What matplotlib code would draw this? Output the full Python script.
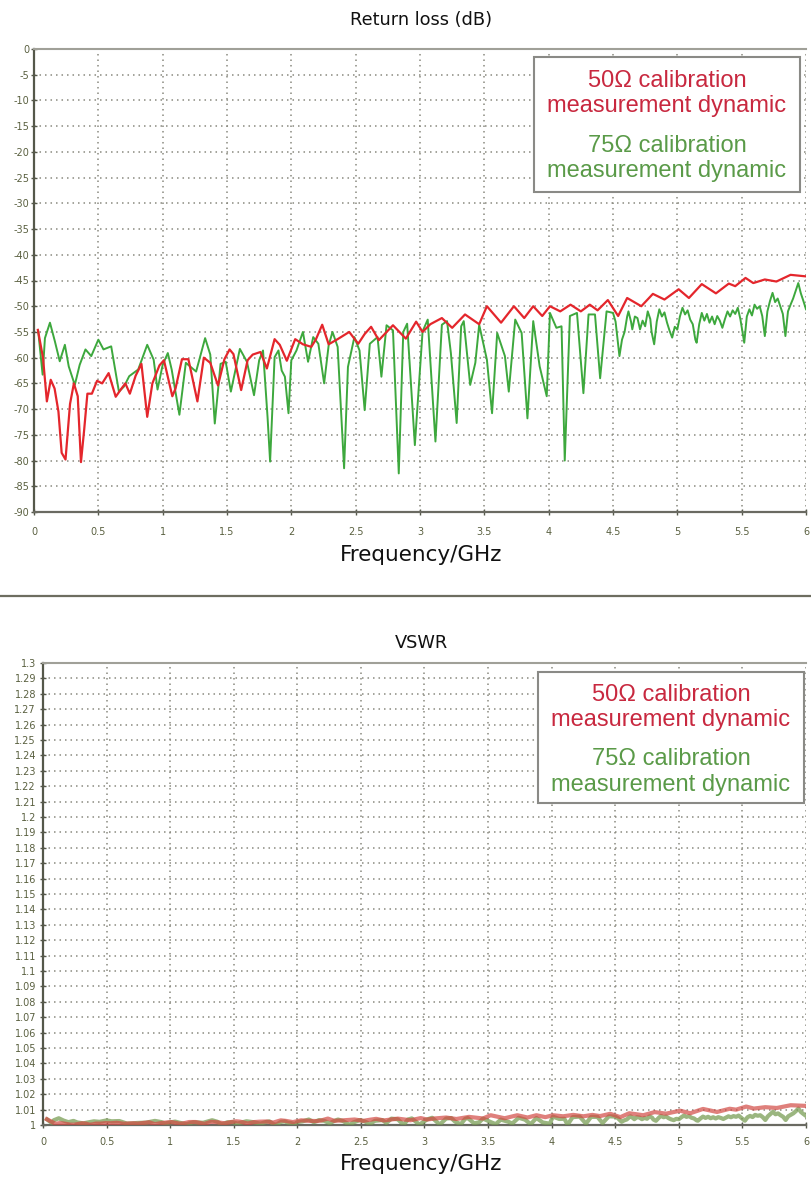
import numpy as np
import matplotlib
matplotlib.use('Agg')
import matplotlib.pyplot as plt
from matplotlib import font_manager as fm
from matplotlib.patches import Rectangle
from matplotlib.lines import Line2D

# ---------------- data ----------------
freq_ticks = [0, 0.5, 1, 1.5, 2, 2.5, 3, 3.5, 4, 4.5, 5, 5.5, 6]
freq_labels = ["0", "0.5", "1", "1.5", "2", "2.5", "3", "3.5", "4", "4.5", "5", "5.5", "6"]
rl_ticks = list(range(0, -95, -5))
vswr_ticks = [round(1 + 0.01 * i, 2) for i in range(31)]

f_red = [0.03, 0.07, 0.10, 0.13, 0.16, 0.19, 0.215, 0.245, 0.28, 0.31, 0.34, 0.365, 0.39, 0.415,
         0.45, 0.49, 0.53, 0.58, 0.635, 0.68, 0.71, 0.745, 0.79, 0.835, 0.88, 0.92, 0.975, 1.01,
         1.075, 1.10, 1.15, 1.20, 1.27, 1.32, 1.37, 1.43, 1.48, 1.52, 1.55, 1.61, 1.66, 1.70,
         1.76, 1.81, 1.87, 1.91, 1.965, 2.03, 2.09, 2.155, 2.19, 2.24, 2.29, 2.36, 2.45, 2.52,
         2.57, 2.62, 2.68, 2.79, 2.89, 2.97, 3.02, 3.08, 3.17, 3.25, 3.35, 3.46, 3.52, 3.63,
         3.73, 3.81, 3.88, 3.95, 4.01, 4.09, 4.17, 4.25, 4.32, 4.38, 4.46, 4.54, 4.61, 4.72,
         4.81, 4.90, 5.01, 5.09, 5.19, 5.30, 5.40, 5.45, 5.53, 5.59, 5.68, 5.77, 5.88, 6.0]
rl_red = [-54.6, -60.0, -68.5, -64.3, -66.0, -70.5, -78.5, -79.8, -69.0, -65.0, -67.5, -80.3, -74.0, -67.0,
          -67.0, -64.5, -65.0, -63.0, -67.6, -66.0, -65.0, -67.0, -63.5, -61.2, -71.5, -65.0, -61.5, -60.5,
          -67.5, -66.0, -60.3, -60.3, -68.5, -60.0, -61.0, -65.4, -60.3, -58.4, -59.3, -66.3, -60.5, -59.4,
          -58.9, -62.1, -56.4, -57.5, -60.6, -56.4, -57.4, -57.9, -56.5, -53.6, -57.4, -56.4, -55.0, -57.3,
          -55.4, -54.0, -56.6, -53.7, -56.3, -53.0, -55.0, -53.5, -52.3, -54.2, -51.6, -53.5, -50.0, -53.2,
          -50.0, -52.3, -50.0, -51.9, -50.0, -51.0, -49.7, -51.0, -49.7, -50.8, -48.8, -51.9, -48.4, -50.0,
          -47.6, -48.7, -46.7, -48.4, -45.7, -47.5, -45.6, -46.1, -44.5, -45.5, -44.8, -45.2, -43.9, -44.2]

f_grn = [0.033, 0.067, 0.085, 0.124, 0.162, 0.20, 0.24, 0.27, 0.317, 0.355, 0.40, 0.445, 0.50, 0.54,
         0.60, 0.66, 0.70, 0.74, 0.81, 0.88, 0.93, 0.96, 1.0, 1.04, 1.07, 1.13, 1.18, 1.26, 1.33, 1.37,
         1.405, 1.45, 1.49, 1.53, 1.60, 1.655, 1.71, 1.75, 1.78, 1.815, 1.835, 1.87, 1.90, 1.925, 1.95,
         1.978, 2.0, 2.04, 2.09, 2.13, 2.17, 2.21, 2.255, 2.29, 2.32, 2.36, 2.41, 2.44, 2.49, 2.53,
         2.57, 2.61, 2.67, 2.70, 2.74, 2.79, 2.835, 2.87, 2.90, 2.96, 3.02, 3.06, 3.12, 3.17, 3.21,
         3.24, 3.285, 3.32, 3.34, 3.39, 3.43, 3.46, 3.52, 3.56, 3.60, 3.66, 3.69, 3.74, 3.79, 3.835,
         3.88, 3.93, 3.985, 4.01, 4.06, 4.10, 4.125, 4.165, 4.22, 4.27, 4.31, 4.36, 4.40, 4.45, 4.50,
         4.52, 4.55, 4.57, 4.59, 4.61, 4.62, 4.64, 4.65, 4.67, 4.69, 4.71, 4.73, 4.75, 4.77, 4.79,
         4.80, 4.82, 4.84, 4.86, 4.88, 4.90, 4.92, 4.94, 4.96, 4.98, 5.00, 5.02, 5.04, 5.06, 5.08,
         5.10, 5.12, 5.14, 5.15, 5.17, 5.19, 5.21, 5.23, 5.25, 5.27, 5.29, 5.31, 5.33, 5.35, 5.37,
         5.39, 5.41, 5.43, 5.45, 5.47, 5.49, 5.51, 5.52, 5.54, 5.56, 5.58, 5.60, 5.62, 5.64, 5.66,
         5.68, 5.70, 5.72, 5.74, 5.76, 5.78, 5.80, 5.82, 5.84, 5.86, 5.88, 5.90, 5.92, 5.94, 5.96,
         5.98, 6.00]
rl_grn = [-54.9, -63.3, -56.2, -53.2, -56.8, -60.7, -57.5, -61.7, -65.3, -61.4, -58.4, -59.7, -56.5, -58.4,
          -57.8, -66.6, -65.6, -63.6, -62.3, -57.5, -60.4, -66.2, -61.4, -59.1, -62.3, -71.1, -61.0, -62.7, -56.2, -59.4,
          -72.8, -61.2, -60.8, -66.6, -58.3, -60.8, -67.3, -60.5, -58.6, -71.5, -80.2, -59.9, -58.6, -62.5, -63.7,
          -70.8, -60.5, -58.6, -55.0, -60.8, -56.0, -57.3, -65.0, -57.6, -55.0, -57.9, -81.5, -61.8, -56.0, -58.6,
          -70.2, -57.3, -56.0, -63.7, -53.7, -54.7, -82.5, -55.0, -53.4, -77.0, -54.9, -52.6, -76.3, -53.6, -52.9,
          -59.1, -72.7, -53.9, -52.9, -65.3, -61.0, -53.6, -60.4, -70.8, -55.2, -59.7, -66.6, -52.6, -55.2, -71.8,
          -52.9, -61.7, -67.5, -51.3, -54.2, -53.9, -80.0, -51.9, -51.3, -66.9, -51.6, -51.6, -64.0, -51.0, -51.3,
          -53.0, -59.7, -56.5, -55.0, -52.0, -51.0, -53.0, -54.5, -52.0, -52.3, -54.5, -52.8, -53.9, -51.0, -52.5,
          -55.0, -57.4, -53.0, -50.6, -52.0, -51.2, -53.2, -54.8, -56.1, -54.0, -54.5, -52.0, -50.3, -51.6, -50.8,
          -52.6, -53.5, -56.5, -57.1, -53.5, -51.3, -52.8, -51.5, -53.2, -52.0, -53.5, -51.9, -52.8, -54.2, -52.5,
          -51.0, -52.0, -50.8, -51.5, -50.3, -52.5, -55.5, -57.1, -52.0, -50.6, -51.8, -49.7, -50.5, -50.0, -51.9,
          -55.8, -51.0, -49.0, -47.4, -49.2, -48.5, -50.0, -51.5, -55.8, -51.0, -49.7, -48.5, -47.0, -45.5, -47.5,
          -49.0, -50.6]

legend_lines = ["50\u03a9 calibration", "measurement dynamic", "75\u03a9 calibration", "measurement dynamic"]

# VSWR derived from the measured return loss
def to_vswr(rl):
    g = 10 ** (np.asarray(rl) / 20.0)
    return (1 + g) / (1 - g)

vswr_red = to_vswr(rl_red)
vswr_grn = to_vswr(rl_grn)

# ---------------- style ----------------
avail = {f.name for f in fm.fontManager.ttflist}
def pick(*names):
    for n in names:
        if n in avail:
            return n
    return 'DejaVu Sans'
legfont = pick('Liberation Sans', 'Arimo', 'DejaVu Sans')

W, H = 812, 1177
fig = plt.figure(figsize=(W / 100, H / 100), dpi=100)

def fx(px):
    return px / W
def fy(py):
    return 1 - py / H

TICKC = '#5a6040'
GRIDC = '#8a8a80'
RED_L = '#e4262c'
GRN_L = '#3da83d'
RED_T = '#c8283f'
GRN_T = '#5a9a48'

def style_axes(ax, ypad, xpad):
    ax.set_xlim(0, 6)
    ax.set_xticks(freq_ticks)
    ax.set_xticklabels(freq_labels)
    ax.grid(True, linestyle=(0, (1, 2.6)), color=GRIDC, lw=1.1)
    ax.set_axisbelow(True)
    ax.spines['right'].set_visible(False)
    ax.spines['top'].set_color('#a0a098')
    ax.spines['top'].set_linewidth(1.5)
    ax.spines['left'].set_color('#55584a')
    ax.spines['left'].set_linewidth(1.6)
    ax.spines['bottom'].set_color('#6a6a62')
    ax.spines['bottom'].set_linewidth(1.6)
    ax.tick_params(axis='both', direction='inout', length=5, width=1.0, color='#55584a',
                   labelsize=7, labelcolor=TICKC)
    ax.tick_params(axis='y', pad=ypad)
    ax.tick_params(axis='x', pad=xpad)
    ax.tick_params(top=False, right=False)

# ---- top: return loss ----
ax1 = fig.add_axes([fx(34), fy(512), (806 - 34) / W, (512 - 49) / H])
ax1.plot(f_grn, rl_grn, color=GRN_L, lw=1.4, zorder=3)
ax1.plot(f_red, rl_red, color=RED_L, lw=1.6, zorder=4)
ax1.set_ylim(-90, 0)
ax1.set_yticks(rl_ticks)
ax1.set_yticklabels([str(t) for t in rl_ticks])
style_axes(ax1, ypad=1.0, xpad=8)

# ---- bottom: VSWR ----
ax2 = fig.add_axes([fx(43), fy(1125), (806 - 43) / W, (1125 - 663) / H])
ax2.plot(f_grn, vswr_grn, color='#7a9e55', lw=3.0, alpha=0.75, zorder=3)
ax2.plot(f_red, vswr_red, color='#d24a44', lw=3.0, alpha=0.7, zorder=4)
ax2.set_ylim(1.0, 1.3)
ax2.set_yticks(vswr_ticks)
ax2.set_yticklabels([f"{t:.2f}".rstrip('0').rstrip('.') for t in vswr_ticks])
style_axes(ax2, ypad=2.5, xpad=6)

# ---- titles and labels ----
fig.text(fx(421), fy(20), "Return loss (dB)", ha='center', va='center', fontsize=12.8, color='#111111')
fig.text(fx(421), fy(555), "Frequency/GHz", ha='center', va='center', fontsize=15.5, color='#111111')
fig.text(fx(421), fy(643), "VSWR", ha='center', va='center', fontsize=12.8, color='#111111')
fig.text(fx(421), fy(1164), "Frequency/GHz", ha='center', va='center', fontsize=15.5, color='#111111')

# separator line
fig.add_artist(Line2D([0, 1], [fy(596), fy(596)], transform=fig.transFigure,
                      color='#6d6d60', lw=1.6))

# ---- legend boxes ----
def legend_box(x0, y0, x1, y1, baselines):
    fig.add_artist(Rectangle((fx(x0), fy(y1)), fx(x1) - fx(x0), fy(y0) - fy(y1),
                             transform=fig.transFigure, facecolor='white',
                             edgecolor='#8a8a86', lw=1.5, zorder=5))
    cx = fx((x0 + x1) / 2)
    cols = [RED_T, RED_T, GRN_T, GRN_T]
    for txt, b, c in zip(legend_lines, baselines, cols):
        fig.text(cx, fy(b), txt, ha='center', va='baseline', fontsize=17,
                 family=legfont, color=c, zorder=6)

legend_box(534, 57, 800, 192, [87, 112, 152, 177])
legend_box(538, 672, 804, 803, [701, 726, 765, 791])

fig.savefig('out.png', dpi=100)
